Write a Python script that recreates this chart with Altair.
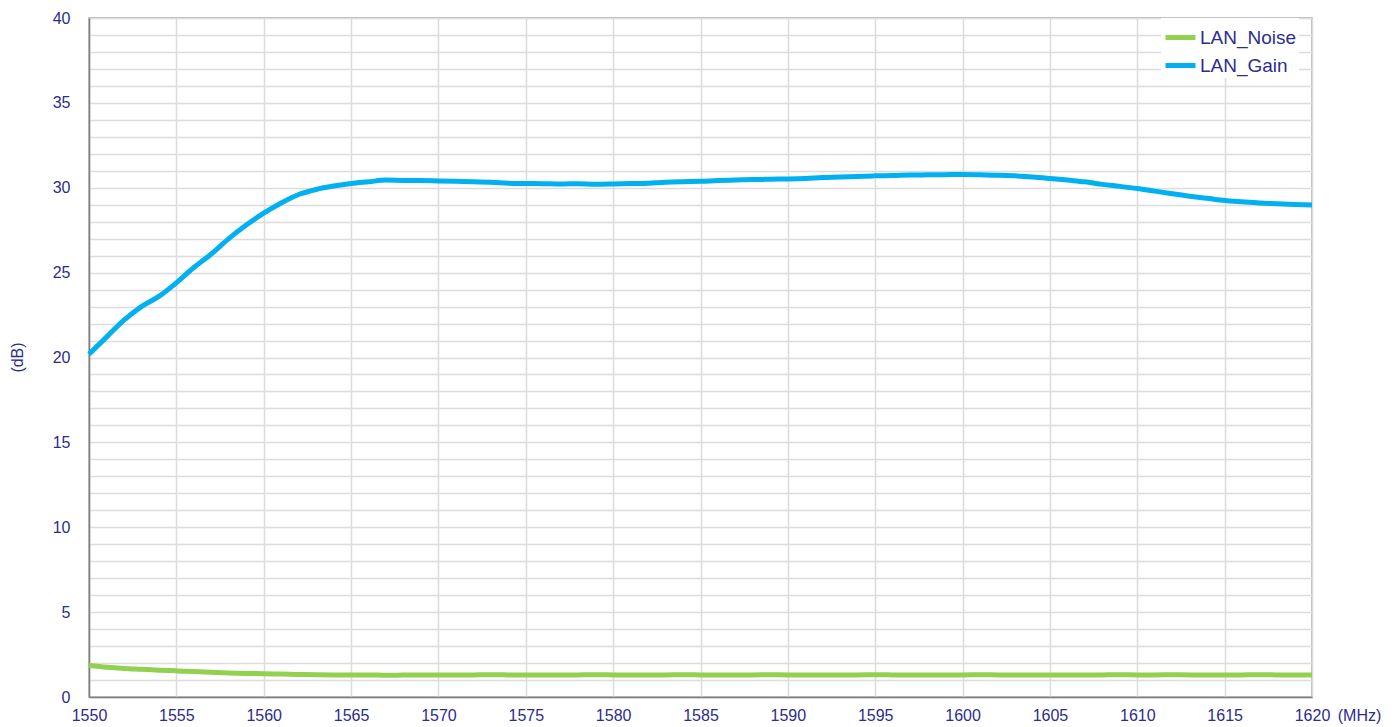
import altair as alt
import pandas as pd

freq = list(range(1550, 1621))

gain = [20.2, 21.2, 22.2, 23.0, 23.6, 24.4, 25.3, 26.1, 27.0, 27.8,
        28.5, 29.1, 29.6, 29.9, 30.1, 30.25, 30.35, 30.45, 30.43, 30.42,
        30.4, 30.38, 30.35, 30.33, 30.27, 30.25, 30.24, 30.22, 30.24, 30.2,
        30.22, 30.25, 30.27, 30.33, 30.36, 30.38, 30.42, 30.45, 30.48, 30.5,
        30.52, 30.55, 30.6, 30.63, 30.67, 30.7, 30.72, 30.75, 30.76, 30.77,
        30.78, 30.76, 30.74, 30.7, 30.64, 30.55, 30.45, 30.35, 30.2, 30.08,
        29.95, 29.8, 29.65, 29.5, 29.38, 29.25, 29.17, 29.1, 29.06, 29.02,
        28.98]

noise = [1.85, 1.75, 1.68, 1.63, 1.58, 1.54, 1.5, 1.46, 1.42, 1.39,
         1.37, 1.35, 1.33, 1.31, 1.3, 1.29, 1.3, 1.28, 1.29, 1.3,
         1.3, 1.29, 1.3, 1.31, 1.3, 1.29, 1.3, 1.29, 1.3, 1.31,
         1.3, 1.29, 1.3, 1.3, 1.31, 1.3, 1.29, 1.3, 1.3, 1.31,
         1.3, 1.3, 1.29, 1.3, 1.3, 1.31, 1.3, 1.29, 1.3, 1.3,
         1.3, 1.31, 1.3, 1.29, 1.3, 1.3, 1.3, 1.29, 1.3, 1.31,
         1.3, 1.3, 1.31, 1.3, 1.3, 1.29, 1.3, 1.31, 1.3, 1.29,
         1.3]

series_names = ["LAN_Noise", "LAN_Gain"]
series_colors = ["#92d050", "#00b0f0"]

x_ticks = list(range(1550, 1621, 5))
y_grid = list(range(0, 41))

rows = []
for f, g, n in zip(freq, gain, noise):
    rows.append({"freq": f, "value": n, "series": "LAN_Noise"})
    rows.append({"freq": f, "value": g, "series": "LAN_Gain"})
df = pd.DataFrame(rows)

navy = "#2b2d8f"
font = "Liberation Sans"

chart = alt.Chart(df).mark_line(strokeWidth=5, interpolate="monotone").encode(
    x=alt.X("freq:Q",
            scale=alt.Scale(domain=[1550, 1620], nice=False, zero=False),
            axis=alt.Axis(values=x_ticks, title="(MHz)", format="d",
                          labelPadding=10, ticks=False,
                          titleX=1270, titleY=18, titleBaseline="middle",
                          titleAlign="center", titleFontWeight="normal",
                          labelFlush=False)),
    y=alt.Y("value:Q",
            scale=alt.Scale(domain=[0, 40], nice=False),
            axis=alt.Axis(values=y_grid, title="(dB)",
                          labelExpr="datum.value % 5 == 0 ? datum.label : ''",
                          labelPadding=19, ticks=False,
                          titleX=-72, titleY=339, titleFontWeight="normal",
                          titleAlign="center", titleBaseline="middle")),
    color=alt.Color("series:N",
                    scale=alt.Scale(domain=series_names, range=series_colors),
                    legend=alt.Legend(title=None, orient="none",
                                      legendX=1072, legendY=0,
                                      symbolType="stroke", symbolStrokeWidth=5,
                                      symbolSize=900, labelFontSize=19,
                                      labelColor=navy, labelFont=font,
                                      labelOffset=2, rowPadding=0,
                                      fillColor="white", padding=2)),
    order=alt.Order("series:N"),
).properties(
    width=1223, height=679,
    autosize="none",
    padding={"left": 81, "top": 10, "right": 70, "bottom": 30},
).configure_view(
    stroke="#a6a6a6", strokeWidth=1.5
).configure_axis(
    labelFont=font, titleFont=font, labelColor=navy, titleColor=navy,
    labelFontSize=16, titleFontSize=16,
    gridColor="#dcdcdc", gridWidth=1.5,
    domainColor="#7f7f7f", domainWidth=1.5,
)

chart.save("out.html", embed_options={"renderer": "svg", "actions": False})
